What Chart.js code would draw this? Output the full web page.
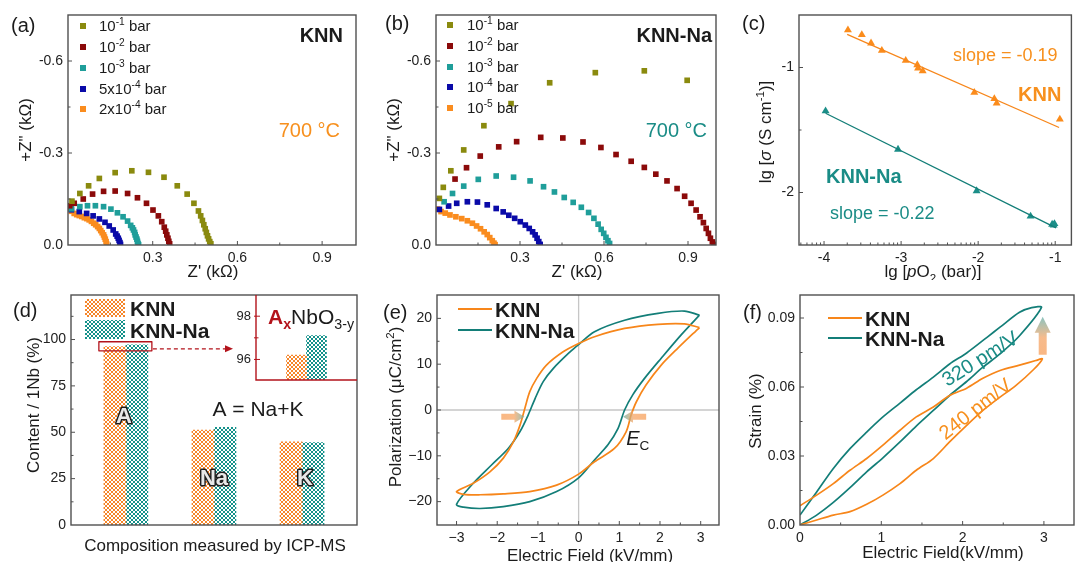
<!DOCTYPE html>
<html>
<head>
<meta charset="utf-8">
<title>KNN / KNN-Na</title>
<script src="https://cdn.jsdelivr.net/npm/chart.js@4.4.1/dist/chart.umd.min.js"></script>
<style>
  html, body { margin: 0; padding: 0; background: #fff; }
  #fig { position: relative; width: 1076px; height: 562px; overflow: hidden; }
  #fig canvas { position: absolute; }
</style>
</head>
<body>
<div id="fig">
  <canvas id="pa" width="360" height="280" style="left:0;top:0"></canvas>
  <canvas id="pb" width="360" height="280" style="left:360px;top:0"></canvas>
  <canvas id="pc" width="356" height="280" style="left:720px;top:0"></canvas>
  <canvas id="pd" width="360" height="282" style="left:0;top:280px"></canvas>
  <canvas id="pdi" width="160" height="125" style="left:200px;top:275px"></canvas>
  <canvas id="pe" width="360" height="282" style="left:360px;top:280px"></canvas>
  <canvas id="pf" width="356" height="282" style="left:720px;top:280px"></canvas>
</div>
<script>
// ---- data ----

// (a) KNN, Nyquist plot at 700 C: Z' and -Z'' in kOhm
const aLabels = ['10^{-1} bar', '10^{-2} bar', '10^{-3} bar', '5x10^{-4} bar', '2x10^{-4} bar'];
const aRe = [
  [0.014, 0.042, 0.073, 0.111, 0.167, 0.226, 0.285, 0.340, 0.387, 0.422, 0.446, 0.462, 0.470, 0.476, 0.481, 0.486, 0.490, 0.494, 0.498, 0.502, 0.506],
  [0.006, 0.022, 0.054, 0.087, 0.126, 0.167, 0.211, 0.246, 0.278, 0.301, 0.320, 0.332, 0.341, 0.346, 0.350, 0.354, 0.357, 0.360],
  [0.012, 0.042, 0.069, 0.097, 0.126, 0.152, 0.175, 0.195, 0.211, 0.222, 0.228, 0.232, 0.236, 0.238, 0.241, 0.244, 0.246, 0.248, 0.250],
  [0.012, 0.040, 0.066, 0.089, 0.111, 0.131, 0.146, 0.160, 0.169, 0.174, 0.178, 0.181, 0.184, 0.186],
  [0.004, 0.012, 0.022, 0.031, 0.040, 0.049, 0.058, 0.067, 0.075, 0.083, 0.091, 0.098, 0.105, 0.111, 0.116, 0.121, 0.126, 0.129, 0.132, 0.135, 0.137]
];
const aIm = [
  [0.143, 0.168, 0.193, 0.217, 0.236, 0.242, 0.237, 0.221, 0.193, 0.166, 0.136, 0.111, 0.095, 0.080, 0.066, 0.053, 0.041, 0.030, 0.020, 0.011, 0.004],
  [0.128, 0.136, 0.150, 0.166, 0.175, 0.176, 0.168, 0.154, 0.136, 0.114, 0.095, 0.076, 0.058, 0.045, 0.033, 0.022, 0.012, 0.004],
  [0.118, 0.125, 0.128, 0.128, 0.125, 0.117, 0.105, 0.092, 0.078, 0.064, 0.056, 0.049, 0.041, 0.033, 0.026, 0.019, 0.012, 0.005, 0.001],
  [0.115, 0.109, 0.103, 0.095, 0.085, 0.074, 0.062, 0.049, 0.036, 0.029, 0.022, 0.015, 0.008, 0.002],
  [0.118, 0.110, 0.103, 0.099, 0.096, 0.093, 0.089, 0.086, 0.082, 0.077, 0.071, 0.066, 0.060, 0.054, 0.047, 0.040, 0.033, 0.026, 0.019, 0.011, 0.003]
];

// (b) KNN-Na, Nyquist plot at 700 C
const bLabels = ['10^{-1} bar', '10^{-2} bar', '10^{-3} bar', '10^{-4} bar', '10^{-5} bar'];
const bRe = [
  [0.012, 0.026, 0.053, 0.099, 0.171, 0.268, 0.406, 0.569, 0.744, 0.897],
  [0.068, 0.109, 0.158, 0.224, 0.288, 0.374, 0.453, 0.525, 0.589, 0.643, 0.697, 0.744, 0.785, 0.825, 0.861, 0.888, 0.911, 0.929, 0.943, 0.955, 0.965, 0.973, 0.980, 0.987, 0.992],
  [0.029, 0.059, 0.099, 0.151, 0.215, 0.277, 0.336, 0.384, 0.423, 0.458, 0.490, 0.519, 0.545, 0.564, 0.579, 0.590, 0.599, 0.607, 0.614, 0.620],
  [0.012, 0.045, 0.074, 0.112, 0.148, 0.183, 0.215, 0.240, 0.260, 0.281, 0.301, 0.319, 0.333, 0.345, 0.354, 0.361, 0.367, 0.372],
  [0.006, 0.018, 0.033, 0.050, 0.071, 0.092, 0.112, 0.130, 0.145, 0.159, 0.172, 0.183, 0.192, 0.201, 0.207, 0.211]
];
const bIm = [
  [0.152, 0.188, 0.242, 0.310, 0.389, 0.461, 0.529, 0.562, 0.568, 0.537],
  [0.215, 0.252, 0.290, 0.320, 0.337, 0.351, 0.349, 0.336, 0.318, 0.295, 0.273, 0.253, 0.231, 0.209, 0.184, 0.159, 0.136, 0.114, 0.092, 0.073, 0.054, 0.038, 0.022, 0.010, 0.002],
  [0.141, 0.168, 0.192, 0.214, 0.225, 0.221, 0.209, 0.190, 0.173, 0.155, 0.139, 0.123, 0.106, 0.087, 0.068, 0.051, 0.038, 0.025, 0.014, 0.005],
  [0.116, 0.127, 0.136, 0.141, 0.140, 0.131, 0.119, 0.108, 0.097, 0.087, 0.076, 0.065, 0.054, 0.043, 0.033, 0.022, 0.011, 0.002],
  [0.117, 0.109, 0.104, 0.098, 0.092, 0.086, 0.079, 0.071, 0.062, 0.053, 0.043, 0.034, 0.024, 0.014, 0.006, 0.001]
];

// (c) lg sigma vs lg pO2
const cKnnX = [-3.69, -3.51, -3.39, -3.25, -2.94, -2.79, -2.78, -2.72, -2.05, -1.79, -1.76, -0.94];
const cKnnY = [-0.700, -0.738, -0.805, -0.864, -0.944, -0.979, -1.005, -1.027, -1.200, -1.250, -1.286, -1.414];
const cNaX = [-3.98, -3.04, -2.02, -1.32, -1.04, -1.02, -1.01];
const cNaY = [-1.348, -1.655, -1.987, -2.190, -2.255, -2.262, -2.250];
const cKnnFitX = [-3.70, -0.95];
const cKnnFitY = [-0.735, -1.480];
const cNaFitX = [-3.98, -0.99];
const cNaFitY = [-1.366, -2.283];

// (d) ICP-MS composition, content per 1 Nb (%)
const dCats = ['A', 'Na', 'K'];
const dKnn = [96.2, 51.2, 44.8];
const dKnnNa = [97.1, 52.6, 44.5];

// (e) P-E loops, E in kV/mm, P in uC/cm2
const eKnnE = [2.97, 2.6, 1.95, 1.13, 0.39, 0.0, -0.38, -0.79, -1.03, -1.2, -1.32, -1.44, -1.6, -1.85, -2.18, -2.59, -3.0,
               -2.83, -2.42, -1.85, -1.2, -0.54, 0.0, 0.39, 0.88, 1.17, 1.29, 1.42, 1.66, 2.03, 2.44, 2.97];
const eKnnP = [18.0, 18.8, 18.7, 17.8, 16.0, 14.5, 12.7, 9.8, 6.9, 4.0, 0.4, -3.3, -6.9, -10.5, -13.5, -16.0, -17.8,
               -18.4, -18.5, -18.3, -17.8, -16.4, -14.0, -11.3, -8.4, -4.7, -1.1, 1.8, 5.5, 9.8, 13.5, 18.0];
const eNaE = [2.97, 2.6, 1.95, 1.13, 0.39, 0.0, -0.21, -0.62, -0.87, -1.07, -1.24, -1.44, -1.73, -2.14, -2.59, -3.0,
              -2.83, -2.42, -1.85, -1.2, -0.54, 0.0, 0.39, 0.72, 0.97, 1.13, 1.33, 1.62, 2.03, 2.52, 2.97];
const eNaP = [20.7, 21.6, 21.1, 19.6, 17.1, 14.3, 12.7, 9.1, 6.2, 2.5, -1.1, -4.7, -8.4, -12.0, -16.0, -20.6,
              -21.2, -21.5, -21.1, -20.0, -17.8, -14.8, -10.9, -7.6, -4.0, 0.0, 3.3, 6.9, 11.3, 16.4, 20.7];

// (f) S-E curves, strain in %
const fKnnE = [0, 0.205, 0.41, 0.615, 0.82, 1.02, 1.23, 1.43, 1.64, 1.84, 2.05, 2.25, 2.46, 2.7, 2.9, 2.98,
               2.87, 2.65, 2.46, 2.25, 2.05, 1.84, 1.64, 1.43, 1.23, 1.02, 0.82, 0.615, 0.41, 0.205, 0];
const fKnnS = [0.0084, 0.013, 0.018, 0.0238, 0.0289, 0.0347, 0.0412, 0.047, 0.0513, 0.0563, 0.0595, 0.0638, 0.0672, 0.0695, 0.0715, 0.0722,
               0.0675, 0.0605, 0.0556, 0.0498, 0.0433, 0.0361, 0.0289, 0.0238, 0.018, 0.013, 0.009, 0.0058, 0.0043, 0.0022, 0];
const fNaE = [0, 0.205, 0.41, 0.615, 0.82, 1.02, 1.23, 1.43, 1.64, 1.84, 2.05, 2.3, 2.46, 2.7, 2.85, 2.97,
              2.7, 2.46, 2.25, 2.05, 1.84, 1.64, 1.43, 1.23, 1.02, 0.82, 0.615, 0.41, 0.205, 0];
const fNaS = [0.0043, 0.0144, 0.0246, 0.0332, 0.0404, 0.047, 0.053, 0.0588, 0.0643, 0.07, 0.0748, 0.0816, 0.086, 0.0925, 0.0945, 0.0946,
              0.0823, 0.0744, 0.0686, 0.0624, 0.0563, 0.0498, 0.043, 0.0361, 0.0292, 0.0231, 0.0162, 0.0098, 0.0043, 0];

// ---- styling ----
const FONT = '"Liberation Sans", Arial, Helvetica, sans-serif';
Chart.defaults.font.family = FONT;
const INK = '#1b1b1b';
const AXIS = '#505050';
const markCols = ['#8a8a0e', '#8b0a0a', '#1f9e9a', '#0a0aa8', '#fa8c1e'];
const ORANGE = '#f7861a';
const TEAL = '#137e78';
const ORANGE_T = '#f7901e';
const TEAL_T = '#1a8c86';
const RED = '#b3131b';

// text with ^{sup}, _{sub}, ~{italic}
function parts(str) {
  const out = [];
  const re = /([\^_~])\{([^}]*)\}|([^\^_~]+)/g;
  let m;
  while ((m = re.exec(str))) {
    if (m[3]) out.push({ t: m[3] });
    else out.push({ t: m[2], sup: m[1] === '^', sub: m[1] === '_', it: m[1] === '~' });
  }
  return out;
}
function rich(ctx, str, x, y, size, o = {}) {
  const ps = Array.isArray(str) ? str : parts(str);
  const font = p => `${p.it ? 'italic ' : ''}${(p.bold ?? o.bold) ? 'bold ' : ''}${(p.sup || p.sub) ? size * 0.68 : size}px ${FONT}`;
  let w = 0;
  ps.forEach(p => { ctx.font = font(p); p.w = ctx.measureText(p.t).width; w += p.w; });
  let cx = o.align === 'center' ? x - w / 2 : o.align === 'right' ? x - w : x;
  const base = y + size * 0.36;
  ctx.textAlign = 'left';
  ctx.textBaseline = 'alphabetic';
  ps.forEach(p => {
    ctx.font = font(p);
    ctx.fillStyle = p.color || o.color || INK;
    const dy = p.sup ? -size * 0.42 : p.sub ? size * 0.26 : 0;
    ctx.fillText(p.t, cx, base + dy);
    cx += p.w;
  });
}
function rtext(ctx, str, x, y, deg, size, o = {}) {
  ctx.save();
  ctx.translate(x, y);
  ctx.rotate(deg * Math.PI / 180);
  rich(ctx, str, 0, 0, size, Object.assign({ align: 'center' }, o));
  ctx.restore();
}

function hatch(color) {
  const c = document.createElement('canvas');
  c.width = c.height = 4;
  const g = c.getContext('2d');
  g.fillStyle = '#fff';
  g.fillRect(0, 0, 4, 4);
  g.fillStyle = color;
  [[0, 0], [1, 1], [2, 2], [3, 3], [3, 0], [2, 1], [1, 2], [0, 3]].forEach(([x, y]) => g.fillRect(x, y, 1, 1));
  return g.createPattern(c, 'repeat');
}
const hatchOrange = hatch('#f6862a');
const hatchTeal = hatch('#14918a');

// box round the plot, inward major and minor ticks
function framePlugin(o) {
  return {
    id: 'frame',
    afterDatasetsDraw(chart) {
      const { ctx, chartArea: a, scales } = chart;
      ctx.save();
      ctx.strokeStyle = AXIS;
      ctx.lineWidth = 1.4;
      ctx.strokeRect(a.left, a.top, a.right - a.left, a.bottom - a.top);
      ctx.lineWidth = 1;
      const tick = (s, v, len) => {
        const p = s.getPixelForValue(v);
        ctx.beginPath();
        if (s.axis === 'x') {
          if (p < a.left + 1 || p > a.right - 1) return;
          ctx.moveTo(p, a.bottom); ctx.lineTo(p, a.bottom - len);
        } else {
          if (p < a.top + 1 || p > a.bottom - 1) return;
          ctx.moveTo(a.left, p); ctx.lineTo(a.left + len, p);
        }
        ctx.stroke();
      };
      ['x', 'y'].forEach(id => {
        if (o[id] === false) return;
        const s = scales[id];
        s.ticks.forEach(t => tick(s, t.value, 4));
        (o[id + 'Minor'] || []).forEach(v => tick(s, v, 2.5));
      });
      ctx.restore();
    }
  };
}

// the axis boxes take the whole margin so that their labels are not clipped
function axis(o, horiz, size) {
  return {
    type: 'linear', min: o.min, max: o.max, offset: false,
    afterFit: s => { if (horiz) s.height = size; else s.width = size; },
    grid: { display: false, drawTicks: false },
    border: { display: false },
    ticks: {
      stepSize: o.step, display: o.show !== false, includeBounds: false, autoSkip: false, maxRotation: 0,
      padding: o.pad ?? 5, color: '#222', font: { size: o.size || 14 },
      callback: o.fmt || (v => v)
    }
  };
}
function options(pad, x, y) {
  return {
    responsive: false, animation: false, devicePixelRatio: 1, events: [],
    layout: { padding: { left: 0, bottom: 0, top: pad.top, right: pad.right } },
    plugins: { legend: { display: false }, tooltip: { enabled: false } },
    scales: { x: axis(x, true, pad.bottom), y: axis(y, false, pad.left) }
  };
}
const pts = (xs, ys) => xs.map((x, i) => ({ x, y: ys[i] }));

function legendSquares(ctx, labels, x, ys, tx) {
  labels.forEach((l, i) => {
    ctx.fillStyle = markCols[i];
    ctx.fillRect(x - 3, ys[i] - 3, 6, 6);
    rich(ctx, l, tx, ys[i], 15);
  });
}
function legendLines(ctx, x1, x2, ys) {
  [ORANGE, TEAL].forEach((c, i) => {
    ctx.strokeStyle = c;
    ctx.lineWidth = 2;
    ctx.beginPath(); ctx.moveTo(x1, ys[i]); ctx.lineTo(x2, ys[i]); ctx.stroke();
    rich(ctx, ['KNN', 'KNN-Na'][i], x2 + 3, ys[i], 21, { bold: true });
  });
}
function hArrow(ctx, x0, x1, y) {
  const dir = Math.sign(x1 - x0), head = 10, hh = 6, th = 3;
  const g = ctx.createLinearGradient(x0, y, x1, y);
  g.addColorStop(0, 'rgba(247,160,90,0.75)');
  g.addColorStop(0.55, 'rgba(247,165,100,0.75)');
  g.addColorStop(1, 'rgba(110,175,165,0.75)');
  ctx.fillStyle = g;
  ctx.beginPath();
  ctx.moveTo(x0, y - th); ctx.lineTo(x1 - dir * head, y - th); ctx.lineTo(x1 - dir * head, y - hh);
  ctx.lineTo(x1, y); ctx.lineTo(x1 - dir * head, y + hh); ctx.lineTo(x1 - dir * head, y + th);
  ctx.lineTo(x0, y + th); ctx.closePath(); ctx.fill();
}
function vArrow(ctx, x, y0, y1) {
  const head = 16, hw = 8, th = 4;
  const g = ctx.createLinearGradient(x, y0, x, y1);
  g.addColorStop(0, 'rgba(248,170,110,0.85)');
  g.addColorStop(0.45, 'rgba(245,175,120,0.85)');
  g.addColorStop(1, 'rgba(120,185,180,0.85)');
  ctx.fillStyle = g;
  ctx.beginPath();
  ctx.moveTo(x - th, y0); ctx.lineTo(x - th, y1 + head); ctx.lineTo(x - hw, y1 + head);
  ctx.lineTo(x, y1); ctx.lineTo(x + hw, y1 + head); ctx.lineTo(x + th, y1 + head);
  ctx.lineTo(x + th, y0); ctx.closePath(); ctx.fill();
}

const negFmt = v => (v === 0 ? '0.0' : '-' + v.toFixed(1));
const zFmtX = v => (v === 0 ? '' : v.toFixed(1));

// ---- (a) ----
new Chart(document.getElementById('pa'), {
  type: 'scatter',
  data: {
    datasets: aRe.map((xs, i) => ({
      data: pts(xs, aIm[i]), pointStyle: 'rect', pointRadius: 4, borderWidth: 0,
      backgroundColor: markCols[i], borderColor: markCols[i]
    }))
  },
  options: options({ left: 68, top: 15, right: 3, bottom: 35 },
    { min: 0, max: 1.02, step: 0.3, fmt: zFmtX },
    { min: 0, max: 0.75, step: 0.3, fmt: negFmt }),
  plugins: [framePlugin({ xMinor: [0.15, 0.45, 0.75], yMinor: [0.15, 0.45] }), {
    id: 'deco',
    afterDraw(chart) {
      const ctx = chart.ctx;
      ctx.save();
      rich(ctx, '(a)', 11, 25, 20);
      rtext(ctx, '+Z" (kΩ)', 25, 130, -90, 17);
      rich(ctx, "Z' (kΩ)", 213, 271, 17, { align: 'center' });
      rich(ctx, 'KNN', 343, 35, 20, { align: 'right', bold: true });
      rich(ctx, '700 °C', 340, 130, 20, { align: 'right', color: ORANGE_T });
      legendSquares(ctx, aLabels, 83, [26, 47, 68, 89, 109], 99);
      ctx.restore();
    }
  }]
});

// ---- (b) ----
new Chart(document.getElementById('pb'), {
  type: 'scatter',
  data: {
    datasets: bRe.map((xs, i) => ({
      data: pts(xs, bIm[i]), pointStyle: 'rect', pointRadius: 4, borderWidth: 0,
      backgroundColor: markCols[i], borderColor: markCols[i]
    }))
  },
  options: options({ left: 76, top: 15, right: 2, bottom: 35 },
    { min: 0, max: 1.0, step: 0.3, fmt: zFmtX },
    { min: 0, max: 0.75, step: 0.3, fmt: negFmt }),
  plugins: [framePlugin({ xMinor: [0.15, 0.45, 0.75], yMinor: [0.15, 0.45] }), {
    id: 'deco',
    afterDraw(chart) {
      const ctx = chart.ctx;
      ctx.save();
      rich(ctx, '(b)', 25, 23, 20);
      rtext(ctx, '+Z" (kΩ)', 33, 130, -90, 17);
      rich(ctx, "Z' (kΩ)", 217, 271, 17, { align: 'center' });
      rich(ctx, 'KNN-Na', 352, 35, 20, { align: 'right', bold: true });
      rich(ctx, '700 °C', 347, 130, 20, { align: 'right', color: TEAL_T });
      legendSquares(ctx, bLabels, 90, [25, 46, 67, 87, 108], 107);
      ctx.restore();
    }
  }]
});

// ---- (c) ----
const cMinor = [];
for (let n = -5; n <= -1; n++) for (let k = 2; k <= 9; k++) cMinor.push(n + Math.log10(k));
new Chart(document.getElementById('pc'), {
  type: 'scatter',
  data: {
    datasets: [
      { data: pts(cKnnFitX, cKnnFitY), showLine: true, pointRadius: 0, borderColor: ORANGE, borderWidth: 1.3 },
      { data: pts(cNaFitX, cNaFitY), showLine: true, pointRadius: 0, borderColor: TEAL, borderWidth: 1.3 },
      { data: pts(cKnnX, cKnnY), pointStyle: 'triangle', pointRadius: 4.6, borderWidth: 0, backgroundColor: '#fb8c1c', borderColor: '#fb8c1c' },
      { data: pts(cNaX, cNaY), pointStyle: 'triangle', pointRadius: 4.6, borderWidth: 0, backgroundColor: '#1b8e88', borderColor: '#1b8e88' }
    ]
  },
  options: options({ left: 79, top: 15, right: 2, bottom: 35 },
    { min: -4.325, max: -0.79, step: 1 },
    { min: -2.42, max: -0.58, step: 1 }),
  plugins: [framePlugin({ xMinor: cMinor, yMinor: [-1.5] }), {
    id: 'deco',
    afterDraw(chart) {
      const ctx = chart.ctx;
      ctx.save();
      rich(ctx, '(c)', 22, 23, 20);
      rtext(ctx, 'lg [~{σ} (S cm^{-1})]', 45, 132, -90, 17);
      rich(ctx, 'lg [~{p}O_{2} (bar)]', 213, 271, 17, { align: 'center' });
      rich(ctx, 'slope = -0.19', 233, 55, 18, { color: ORANGE_T });
      rich(ctx, 'KNN', 298, 94, 20, { color: ORANGE_T, bold: true });
      rich(ctx, 'KNN-Na', 106, 176, 20, { color: TEAL_T, bold: true });
      rich(ctx, 'slope = -0.22', 110, 213, 18, { color: TEAL_T });
      ctx.restore();
    }
  }]
});

// ---- (d) ----
const dOpts = options({ left: 71, top: 15, right: 3, bottom: 37 },
  { min: 0.377, max: 3.624, step: 1, show: false },
  { min: 0, max: 124, step: 25 });
new Chart(document.getElementById('pd'), {
  type: 'bar',
  data: {
    datasets: [
      { data: pts(dCats.map((c, i) => i + 1), dKnn), backgroundColor: hatchOrange, barThickness: 22 },
      { data: pts(dCats.map((c, i) => i + 1), dKnnNa), backgroundColor: hatchTeal, barThickness: 22 }
    ]
  },
  options: dOpts,
  plugins: [framePlugin({ x: false, yMinor: [12.5, 37.5, 62.5, 87.5, 112.5] }), {
    id: 'deco',
    afterDraw(chart) {
      const ctx = chart.ctx, x = chart.scales.x, y = chart.scales.y;
      ctx.save();
      rich(ctx, '(d)', 13, 30, 20);
      rtext(ctx, 'Content / 1Nb (%)', 33, 125, -90, 17);
      rich(ctx, 'Composition measured by ICP-MS', 215, 265, 17, { align: 'center' });
      // legend
      ctx.fillStyle = hatchOrange; ctx.fillRect(85, 19, 40, 18);
      ctx.fillStyle = hatchTeal; ctx.fillRect(85, 40, 40, 19);
      rich(ctx, 'KNN', 130, 28, 21, { bold: true });
      rich(ctx, 'KNN-Na', 130, 50, 21, { bold: true });
      rich(ctx, 'A = Na+K', 258, 128, 21, { align: 'center' });
      // outlined category letters
      ctx.font = `bold 22px ${FONT}`;
      ctx.textAlign = 'center'; ctx.textBaseline = 'middle';
      ctx.lineJoin = 'round'; ctx.lineWidth = 3; ctx.strokeStyle = '#1e1e1e'; ctx.fillStyle = '#e8e8e8';
      [[dCats[0], 1, 58, -2], [dCats[1], 2, 25, 0], [dCats[2], 3, 25, 3]].forEach(([t, v, h, dx]) => {
        const px = x.getPixelForValue(v) + dx, py = y.getPixelForValue(h);
        ctx.strokeText(t, px, py); ctx.fillText(t, px, py);
      });
      // zoom box and dashed arrow to inset
      const bx = x.getPixelForValue(1);
      const yt = y.getPixelForValue(98.8), yb = y.getPixelForValue(93.9), ya = y.getPixelForValue(95);
      ctx.strokeStyle = RED; ctx.lineWidth = 1.3;
      ctx.strokeRect(bx - 27, yt, 53, yb - yt);
      ctx.setLineDash([4, 3]);
      ctx.beginPath(); ctx.moveTo(bx + 27, ya); ctx.lineTo(226, ya); ctx.stroke();
      ctx.setLineDash([]);
      ctx.fillStyle = RED;
      ctx.beginPath(); ctx.moveTo(233, ya); ctx.lineTo(225, ya - 3.5); ctx.lineTo(225, ya + 3.5); ctx.closePath(); ctx.fill();
      ctx.restore();
    }
  }]
});

// ---- (d) inset ----
const diOpts = options({ left: 56, top: 20, right: 3, bottom: 20 },
  { min: 0, max: 1, step: 1, show: false },
  { min: 95.05, max: 98.98, step: 2, size: 13, pad: 5 });
diOpts.scales.x = { type: 'category', offset: true, display: true, afterFit: s => { s.height = 20; },
  grid: { display: false, drawTicks: false }, border: { display: false }, ticks: { display: false } };
new Chart(document.getElementById('pdi'), {
  type: 'bar',
  data: {
    labels: [dCats[0]],
    datasets: [
      { data: [dKnn[0]], backgroundColor: hatchOrange, barThickness: 20 },
      { data: [dKnnNa[0]], backgroundColor: hatchTeal, barThickness: 20 }
    ]
  },
  options: diOpts,
  plugins: [{
    id: 'insetFrame',
    afterDraw(chart) {
      const ctx = chart.ctx, a = chart.chartArea, y = chart.scales.y;
      ctx.save();
      ctx.strokeStyle = RED; ctx.lineWidth = 1.4;
      ctx.beginPath(); ctx.moveTo(a.left, a.top); ctx.lineTo(a.left, a.bottom); ctx.lineTo(a.right, a.bottom); ctx.stroke();
      ctx.lineWidth = 1;
      [[96, 4], [98, 4], [97, 2.5]].forEach(([v, len]) => {
        const p = y.getPixelForValue(v);
        ctx.beginPath(); ctx.moveTo(a.left - 2, p); ctx.lineTo(a.left + len, p); ctx.stroke();
      });
      rich(ctx, [
        { t: 'A', bold: true, color: RED }, { t: 'x', sub: true, bold: true, color: RED },
        { t: 'NbO' }, { t: '3-y', sub: true }
      ], 68, 41, 21);
      ctx.restore();
    }
  }]
});

// ---- (e) ----
const eFmt = v => (v < 0 ? '\u2212' + Math.abs(v) : String(v));
new Chart(document.getElementById('pe'), {
  type: 'scatter',
  data: {
    datasets: [
      { data: pts(eKnnE, eKnnP), showLine: true, pointRadius: 0, borderColor: ORANGE, borderWidth: 1.7, tension: 0.3 },
      { data: pts(eNaE, eNaP), showLine: true, pointRadius: 0, borderColor: TEAL, borderWidth: 1.7, tension: 0.3 }
    ]
  },
  options: options({ left: 77, top: 15, right: 1, bottom: 37 },
    { min: -3.48, max: 3.45, step: 1, fmt: eFmt },
    { min: -25.1, max: 25.1, step: 10, fmt: eFmt }),
  plugins: [{
    id: 'zero',
    beforeDatasetsDraw(chart) {
      const ctx = chart.ctx, a = chart.chartArea;
      const x0 = chart.scales.x.getPixelForValue(0), y0 = chart.scales.y.getPixelForValue(0);
      ctx.save();
      ctx.strokeStyle = '#c6c6c6'; ctx.lineWidth = 1.3;
      ctx.beginPath(); ctx.moveTo(x0, a.top); ctx.lineTo(x0, a.bottom);
      ctx.moveTo(a.left, y0); ctx.lineTo(a.right, y0); ctx.stroke();
      ctx.restore();
    }
  }, framePlugin({ xMinor: [-2.5, -1.5, -0.5, 0.5, 1.5, 2.5], yMinor: [-15, -5, 5, 15] }), {
    id: 'deco',
    afterDraw(chart) {
      const ctx = chart.ctx, x = chart.scales.x, y = chart.scales.y;
      ctx.save();
      rich(ctx, '(e)', 23, 32, 20);
      rtext(ctx, 'Polarization (μC/cm^{2})', 35, 127, -90, 17);
      rich(ctx, 'Electric Field (kV/mm)', 230, 275, 17, { align: 'center' });
      legendLines(ctx, 98, 132, [29, 50]);
      hArrow(ctx, x.getPixelForValue(-1.9), x.getPixelForValue(-1.33), y.getPixelForValue(-1.5));
      hArrow(ctx, x.getPixelForValue(1.66), x.getPixelForValue(1.09), y.getPixelForValue(-1.5));
      rich(ctx, '~{E}_{C}', x.getPixelForValue(1.17), y.getPixelForValue(-6.1), 20);
      ctx.restore();
    }
  }]
});

// ---- (f) ----
new Chart(document.getElementById('pf'), {
  type: 'scatter',
  data: {
    datasets: [
      { data: pts(fKnnE, fKnnS), showLine: true, pointRadius: 0, borderColor: ORANGE, borderWidth: 1.7, tension: 0.3 },
      { data: pts(fNaE, fNaS), showLine: true, pointRadius: 0, borderColor: TEAL, borderWidth: 1.7, tension: 0.3 }
    ]
  },
  options: options({ left: 80, top: 15, right: 2, bottom: 37 },
    { min: 0, max: 3.37, step: 1 },
    { min: 0, max: 0.1, step: 0.03, fmt: v => v.toFixed(2) }),
  plugins: [framePlugin({ xMinor: [0.5, 1.5, 2.5], yMinor: [0.015, 0.045, 0.075] }), {
    id: 'deco',
    afterDraw(chart) {
      const ctx = chart.ctx, x = chart.scales.x, y = chart.scales.y;
      ctx.save();
      rich(ctx, '(f)', 23, 32, 20);
      rtext(ctx, 'Strain (%)', 35, 131, -90, 17);
      rich(ctx, 'Electric Field(kV/mm)', 223, 272, 17, { align: 'center' });
      legendLines(ctx, 108, 142, [38, 58]);
      rtext(ctx, '320 pm/V', x.getPixelForValue(2.21), y.getPixelForValue(0.0725), -32, 20, { color: TEAL_T });
      rtext(ctx, '240 pm/V', x.getPixelForValue(2.15), y.getPixelForValue(0.0507), -38, 20, { color: ORANGE_T });
      vArrow(ctx, x.getPixelForValue(2.985), y.getPixelForValue(0.074), y.getPixelForValue(0.0905));
      ctx.restore();
    }
  }]
});
</script>
</body>
</html>
